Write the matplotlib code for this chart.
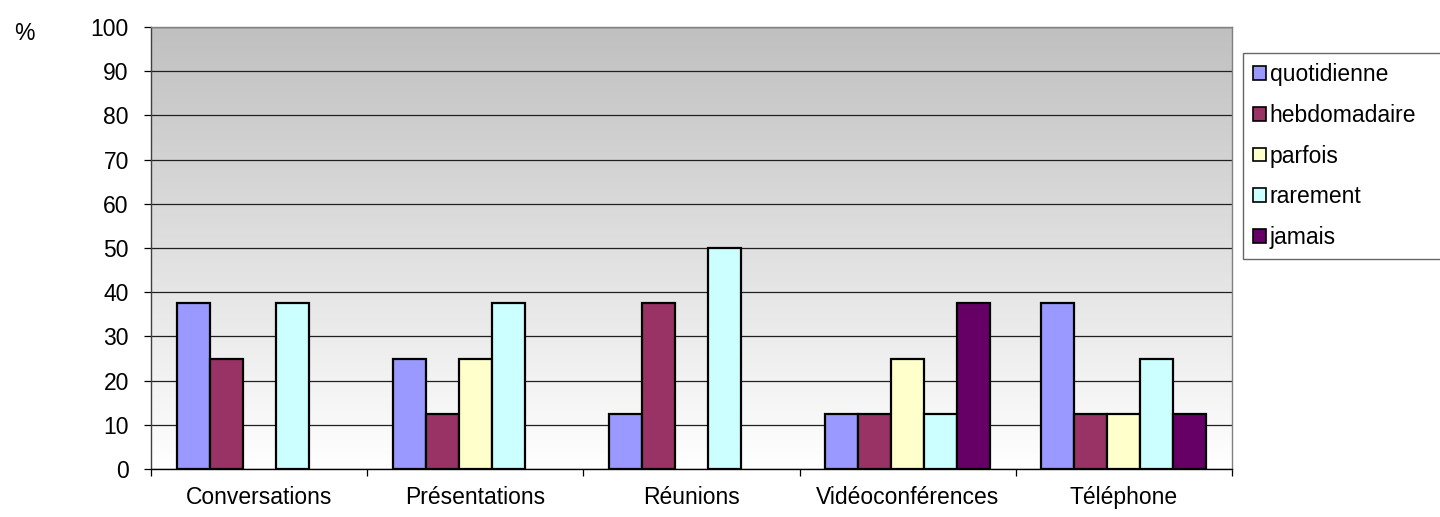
import numpy as np
import matplotlib
matplotlib.use("Agg")
import matplotlib.pyplot as plt
from matplotlib.patches import Patch
from matplotlib.colors import LinearSegmentedColormap

categories = ["Conversations", "Présentations", "Réunions", "Vidéoconférences", "Téléphone"]
series_names = ["quotidienne", "hebdomadaire", "parfois", "rarement", "jamais"]
quotidienne = [37.5, 25, 12.5, 12.5, 37.5]
hebdomadaire = [25, 12.5, 37.5, 12.5, 12.5]
parfois = [0, 25, 0, 25, 12.5]
rarement = [37.5, 37.5, 50, 12.5, 25]
jamais = [0, 0, 0, 37.5, 12.5]
series_values = [quotidienne, hebdomadaire, parfois, rarement, jamais]
colors = ["#9999FF", "#993366", "#FFFFCC", "#CCFFFF", "#660066"]
yticks = [0, 10, 20, 30, 40, 50, 60, 70, 80, 90, 100]

plt.rcParams['font.family'] = ['Liberation Sans', 'DejaVu Sans']
FS = 16.5

W, H = 1440, 517
fig = plt.figure(figsize=(W / 100, H / 100), dpi=100)
ax = fig.add_axes([151 / W, 1 - 469 / H, (1232 - 151) / W, (469 - 27) / H])

# gradient background
grad = np.linspace(1, 0, 256).reshape(-1, 1)
cmap = LinearSegmentedColormap.from_list("g", ["#ffffff", "#c0c0c0"])
ax.imshow(grad, aspect='auto', cmap=cmap, extent=[0, len(categories), 0, 100],
          origin='upper', zorder=0, vmin=0, vmax=1)

n = len(series_names)
bw = 0.1528
x = np.arange(len(categories)) + 0.5
for i, (vals, c) in enumerate(zip(series_values, colors)):
    offs = (i - (n - 1) / 2) * bw
    v = np.array(vals, dtype=float)
    mask = v > 0
    ax.bar(x[mask] + offs, v[mask], width=bw, color=c, edgecolor='black',
           linewidth=1.6, zorder=3)

ax.set_xlim(0, len(categories))
ax.set_ylim(0, 100)
ax.set_yticks(yticks)
ax.set_yticklabels([str(t) for t in yticks], fontsize=FS)
ax.yaxis.grid(True, color='#202020', linewidth=0.9, zorder=1)
ax.set_axisbelow(True)

ax.set_xticks(np.arange(len(categories) + 1))
ax.set_xticklabels([])
ax.set_xticks(x, minor=True)
ax.set_xticklabels(categories, minor=True, fontsize=FS)
ax.tick_params(axis='x', which='minor', length=0, pad=12)
ax.tick_params(axis='x', which='major', length=5, width=0.9, direction='out')
ax.tick_params(axis='y', length=5, width=0.9, direction='out', pad=11)

ax.spines['left'].set_color('#404040')
ax.spines['bottom'].set_color('black')
ax.spines['top'].set_color('#808080')
ax.spines['right'].set_color('#808080')
for s in ax.spines.values():
    s.set_linewidth(1.0)

fig.text(14 / W, 1 - 33 / H, "%", fontsize=FS, va='center', ha='left')

handles = [Patch(facecolor=c, edgecolor='black', linewidth=1.2) for c in colors]
leg = fig.legend(handles, series_names, loc='upper left',
                 bbox_to_anchor=(1243 / W, 1 - 53 / H - 0.01, (1440 - 1243) / W + 0.01, 0.01),
                 mode='expand', borderaxespad=0, fontsize=FS, frameon=True, fancybox=False,
                 handlelength=0.55, handleheight=0.55, handletextpad=0.17,
                 labelspacing=0.77, borderpad=0.45)
leg.get_frame().set_edgecolor('#404040')
leg.get_frame().set_linewidth(1.0)

fig.savefig("out.png", dpi=100)
